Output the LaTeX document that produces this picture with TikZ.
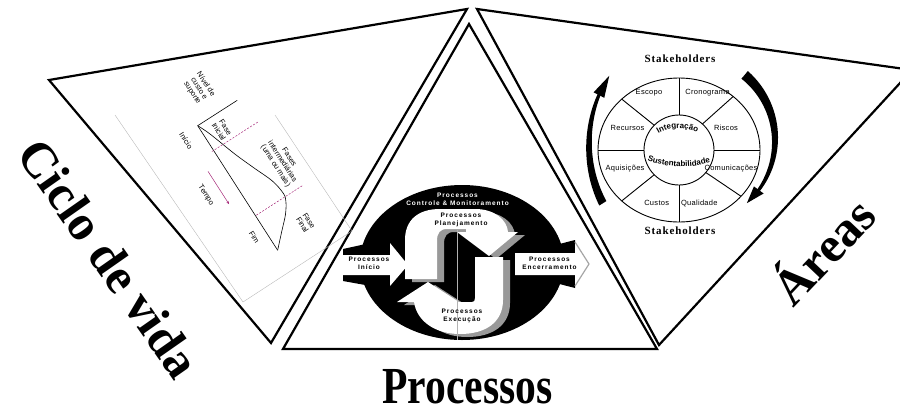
\documentclass[tikz,border=0pt]{standalone}
\usepackage{fontspec}
\setmainfont{Liberation Serif}
\setsansfont{Liberation Sans}
\newfontfamily\procfont[LetterSpace=15]{Liberation Sans}
\newfontfamily\wheelfont[LetterSpace=4]{Liberation Sans}
\newfontfamily\stakefont[LetterSpace=8]{Liberation Serif}
\usetikzlibrary{decorations.text,arrows.meta}
\definecolor{chartmag}{RGB}{165,40,120}
\definecolor{shadowgray}{gray}{0.6}
\begin{document}
\begin{tikzpicture}[x=1pt,y=-1pt,
  edge/.style={line width=2.2pt, line join=miter},
  big/.style={font=\fontsize{50}{50}\selectfont\bfseries, inner sep=0pt},
  charttext/.style={font=\sffamily\fontsize{7.5}{8}\selectfont, align=center, inner sep=0pt, transform shape},
  chartgrid/.style={draw=gray!55, line width=0.4pt},
  chartline/.style={line width=0.6pt},
  proctext/.style={font=\procfont\bfseries\fontsize{6.5}{8}\selectfont, align=center, inner sep=0pt},
  wheeltext/.style={font=\wheelfont\fontsize{7.5}{8}\selectfont, inner sep=0pt},
  staketext/.style={font=\stakefont\bfseries\fontsize{11}{11}\selectfont, inner sep=0pt},
  wheelline/.style={line width=0.9pt},
]
\useasboundingbox (0,0) rectangle (900,413);
\clip (0,0) rectangle (900,413);

% ---------- triangles ----------
\coordinate (L1) at (49,80);
\coordinate (L2) at (467,9);
\coordinate (L3) at (271,343);
\draw[edge] (L1) -- (L2) -- (L3) -- cycle;
\coordinate (C1) at (469,24);
\coordinate (C2) at (283,349);
\coordinate (C3) at (657,349);
\draw[edge] (C1) -- (C2) -- (C3) -- cycle;
\coordinate (R1) at (477,9);
\coordinate (R2) at (912,70);
\coordinate (R3) at (659,345);
\draw[edge] (R1) -- (R2) -- (R3) -- cycle;

% ---------- big labels ----------
\node[big, rotate=-55] (ciclo) at (109,258) {Ciclo de vida};
\node[big, font=\fontsize{52}{52}\selectfont\bfseries, xscale=0.8, anchor=base] (proc) at (467.5,403) {Processos};
\node[big, rotate=46.5] (areas) at (821,249) {Áreas};

% ---------- life cycle chart ----------
\coordinate (G1) at (115,115);
\coordinate (G2) at (243,302);
\coordinate (G3) at (352,231);
\coordinate (G4) at (275,115);
\draw[chartgrid] (G1) -- (G2) -- (G3) -- (G4);
\begin{scope}[shift={(197.7,125.7)}, rotate=-57.3]
  \coordinate (O) at (0,0);
  \coordinate (Tend) at (148,0);
  \coordinate (Ytop) at (0,-47);
  \draw[chartline] (Ytop) -- (O) -- (Tend);
  \draw[chartline] plot[smooth, tension=0.6] coordinates {(0,0) (14,-6) (44,-16) (67,-25) (87,-33) (103,-35.5) (111,-33.5) (122,-26) (134,-14) (148,0)};
  \coordinate (D1a) at (29.4,2);  \coordinate (D1b) at (29.4,-54);
  \coordinate (D2a) at (107,-1);  \coordinate (D2b) at (107,-56);
  \draw[chartmag, dash pattern=on 2pt off 1.5pt, line width=0.5pt] (D1a) -- (D1b);
  \draw[chartmag, dash pattern=on 2pt off 1.5pt, line width=0.5pt] (D2a) -- (D2b);
  \coordinate (TA) at (44,16);
  \coordinate (TB) at (83,16);
  \draw[chartmag, line width=0.5pt, -{Stealth[length=3pt,width=2.5pt]}] (TA) -- (TB);
  \node[charttext] (nivel) at (-30.5,-21.2) {Nível de\\custo e\\suporte};
  \node[charttext] (fini) at (16.6,-18.4) {Fase\\Inicial};
  \node[charttext] (fint) at (76,-51.6) {Fases\\intermediárias\\(uma ou mais)};
  \node[charttext] (ffin) at (140.2,-38.4) {Fase\\Final};
  \node[charttext] (inicio) at (6.3,17.8) {Início};
  \node[charttext] (tempo) at (63,30.8) {Tempo};
  \node[charttext] (fim) at (124.6,12.7) {Fim};
\end{scope}

% ---------- process diagram ----------
\fill[black] (462,262.5) ellipse [x radius=102pt, y radius=77.5pt];
% left arrow
\fill[black] (343,249) -- (393,238) -- (393,290) -- (343,281) -- cycle;
\fill[white] (343,255) -- (390,255) -- (390,243) -- (408,265) -- (390,286) -- (390,275) -- (343,275) -- cycle;
% right arrow
\fill[black] (532,251) -- (575,240) -- (575,288) -- (532,277) -- cycle;
\fill[white] (515,253) -- (575,253) -- (575,243) -- (589,264) -- (575,285) -- (575,275) -- (515,275) -- cycle;
\draw[gray!70, line width=1.2pt] (575,242) -- (589,264) -- (575,286);
% shadows
\begin{scope}[shift={(7,3)}]
\fill[shadowgray] (405,279) -- (405,240) .. controls (405,220) and (418,209) .. (440,209) -- (475,209) .. controls (495,209) and (507,220) .. (508,232) -- (518,232) -- (489,256) -- (457,232) -- (466,232) -- (466,229) -- (447,229) .. controls (440,229) and (437,233) .. (437,241) -- (437,279) -- cycle;
\fill[shadowgray] (475,257) -- (503,257) -- (503,300) .. controls (503,322) and (486,334) .. (460,334) .. controls (436,334) and (417,322) .. (414,302) -- (397,302) -- (428,282) -- (459,302) -- (472,302) .. controls (474,302) and (475,301) .. (475,298) -- cycle;
\end{scope}
% white hooks
\fill[white] (405,279) -- (405,240) .. controls (405,220) and (418,209) .. (440,209) -- (475,209) .. controls (495,209) and (507,220) .. (508,232) -- (518,232) -- (489,256) -- (457,232) -- (466,232) -- (466,229) -- (447,229) .. controls (440,229) and (437,233) .. (437,241) -- (437,279) -- cycle;
\fill[white] (475,257) -- (503,257) -- (503,300) .. controls (503,322) and (486,334) .. (460,334) .. controls (436,334) and (417,322) .. (414,302) -- (397,302) -- (428,282) -- (459,302) -- (472,302) .. controls (474,302) and (475,301) .. (475,298) -- cycle;
\coordinate (VL1) at (456.7,230);
\coordinate (VL2) at (456.7,340);
\draw[gray!60, line width=0.4pt] (VL1) -- (VL2);
\node[proctext, text=white] (pcm) at (457.5,199.5) {Processos\\Controle \& Monitoramento};
\node[proctext] (ppl) at (461,220) {Processos\\Planejamento};
\node[proctext] (pin) at (369,263) {Processos\\Início};
\node[proctext] (pen) at (549.5,263) {Processos\\Encerramento};
\node[proctext] (pex) at (462,316) {Processos\\Execução};

% ---------- knowledge areas wheel ----------
\draw[wheelline] (679,150) ellipse [x radius=81pt, y radius=72pt];
\draw[wheelline] (679,150) circle [radius=35pt];
\foreach \a in {0,40,90,135,180,225,270,312}{
  \draw[wheelline] ({679+35*cos(\a)},{150+35*sin(\a)}) -- ({679+81*cos(\a)},{150+72*sin(\a)});
}
\node[wheeltext] (escopo) at (649,93) {Escopo};
\node[wheeltext] (crono) at (707.5,93) {Cronograma};
\node[wheeltext] (riscos) at (726,128) {Riscos};
\node[wheeltext] (comun) at (731,168.5) {Comunicações};
\node[wheeltext] (qual) at (699.3,203.3) {Qualidade};
\node[wheeltext] (custos) at (656.7,203.3) {Custos};
\node[wheeltext] (aquis) at (625,168.5) {Aquisições};
\node[wheeltext] (recur) at (627.5,128) {Recursos};
\path[decorate, decoration={text along path, text align=center,
  text={|\sffamily\bfseries\fontsize{8}{8}\selectfont|Integração}}]
  (650,142) .. controls (660,124) and (696,124) .. (706,140);
\path[decorate, decoration={text along path, text align=center,
  text={|\sffamily\bfseries\fontsize{8}{8}\selectfont|Sustentabilidade}}]
  (642,158) .. controls (660,169) and (698,169) .. (716,160);
\node[staketext] (stk1) at (680,59) {Stakeholders};
\node[staketext] (stk2) at (680,231) {Stakeholders};
% circular arrows
\fill[black] plot[domain=148:209, samples=30, variable=\t]
   ({680+(91+(4.2-2.7*(\t-148)/61))*cos(\t)},{145+(110+(4.2-2.7*(\t-148)/61))*sin(\t)})
   -- plot[domain=209:148, samples=30, variable=\t]
   ({680+(91-(4.2-2.7*(\t-148)/61))*cos(\t)},{145+(110-(4.2-2.7*(\t-148)/61))*sin(\t)}) -- cycle;
\fill[black] ({680+97*cos(207)},{145+116*sin(207)}) -- ({680+91*cos(219)},{145+110*sin(219)}) -- ({680+85*cos(207)},{145+104*sin(207)}) -- cycle;
\fill[black] plot[domain=-50:37, samples=30, variable=\t]
   ({690+(85+(5-3.5*(\t+50)/87))*cos(\t)},{140+(85+(5-3.5*(\t+50)/87))*sin(\t)})
   -- plot[domain=37:-50, samples=30, variable=\t]
   ({690+(85-(5-3.5*(\t+50)/87))*cos(\t)},{140+(85-(5-3.5*(\t+50)/87))*sin(\t)}) -- cycle;
\fill[black] ({690+91*cos(36)},{140+91*sin(36)}) -- ({690+85*cos(48)},{140+85*sin(48)}) -- ({690+79*cos(36)},{140+79*sin(36)}) -- cycle;
\end{tikzpicture}
\end{document}
